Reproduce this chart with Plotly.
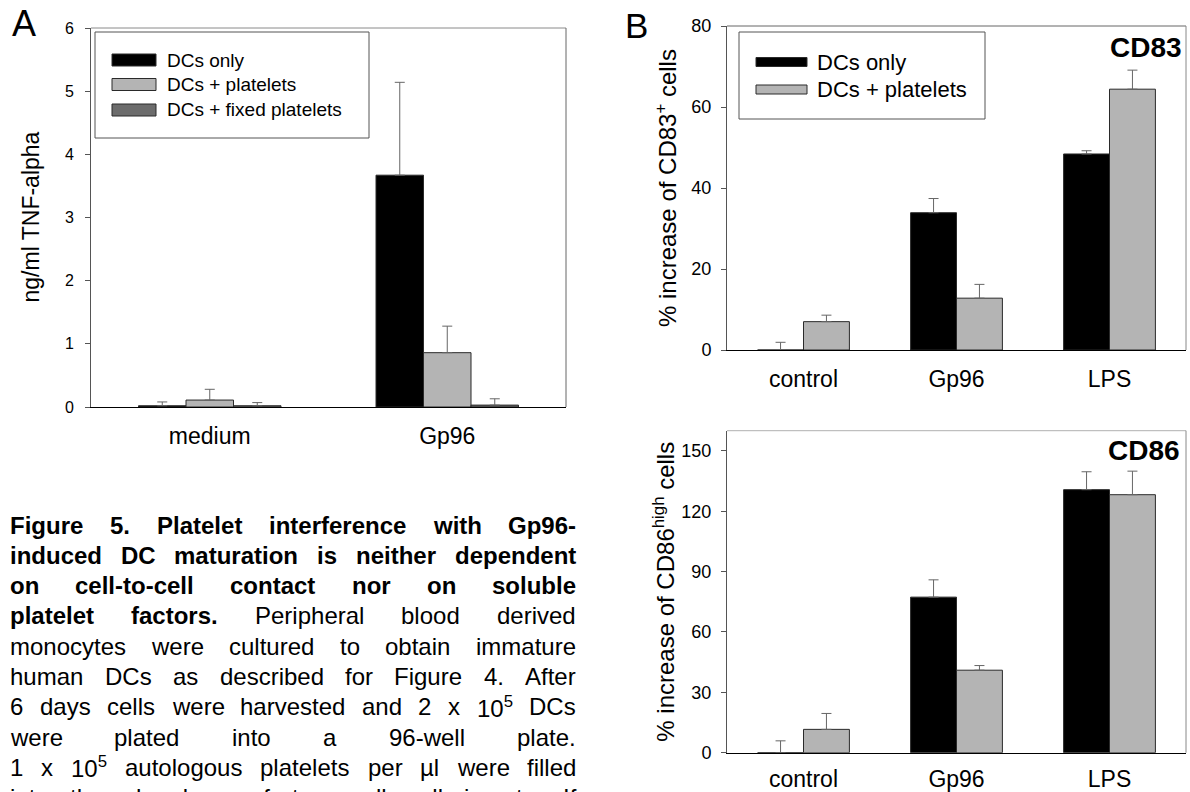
import plotly.graph_objects as go

# ---------------- data ----------------
tnf_categories = ["medium", "Gp96"]
tnf_dc_only = [0.02, 3.67]
tnf_dc_only_err = [0.06, 1.47]
tnf_dc_platelets = [0.11, 0.86]
tnf_dc_platelets_err = [0.17, 0.42]
tnf_dc_fixed = [0.02, 0.03]
tnf_dc_fixed_err = [0.05, 0.10]

stim_categories = ["control", "Gp96", "LPS"]
cd83_dc_only = [0.0, 33.9, 48.4]
cd83_dc_only_err = [1.9, 3.5, 0.8]
cd83_dc_platelets = [7.0, 12.8, 64.4]
cd83_dc_platelets_err = [1.6, 3.4, 4.7]
cd86_dc_only = [0.0, 77.3, 130.7]
cd86_dc_only_err = [5.9, 8.6, 8.9]
cd86_dc_platelets = [11.6, 41.0, 128.2]
cd86_dc_platelets_err = [7.9, 2.3, 11.7]

series_names = ["DCs only", "DCs + platelets", "DCs + fixed platelets"]
series_colors = ["#000000", "#b4b4b4", "#6c6c6c"]

W, H = 1190, 792
FONT = "Liberation Sans, Arial, sans-serif"


def px(x):
    return x / W


def py(y):
    return 1 - y / H


def bar(cats, vals, errs, color, xa, ya, name):
    return go.Bar(
        x=cats, y=vals, name=name, xaxis=xa, yaxis=ya,
        marker=dict(color=color, line=dict(color="#2a2a2a", width=1)),
        error_y=dict(type="data", symmetric=False, array=errs,
                     arrayminus=[0] * len(errs), color="#666666",
                     thickness=1, width=5),
        showlegend=False,
    )


fig = go.Figure()
# panel A: TNF-alpha
fig.add_trace(bar(tnf_categories, tnf_dc_only, tnf_dc_only_err, series_colors[0], "x", "y", series_names[0]))
fig.add_trace(bar(tnf_categories, tnf_dc_platelets, tnf_dc_platelets_err, series_colors[1], "x", "y", series_names[1]))
fig.add_trace(bar(tnf_categories, tnf_dc_fixed, tnf_dc_fixed_err, series_colors[2], "x", "y", series_names[2]))
# panel B: CD83
fig.add_trace(bar(stim_categories, cd83_dc_only, cd83_dc_only_err, series_colors[0], "x2", "y2", series_names[0]))
fig.add_trace(bar(stim_categories, cd83_dc_platelets, cd83_dc_platelets_err, series_colors[1], "x2", "y2", series_names[1]))
# panel B: CD86
fig.add_trace(bar(stim_categories, cd86_dc_only, cd86_dc_only_err, series_colors[0], "x3", "y3", series_names[0]))
fig.add_trace(bar(stim_categories, cd86_dc_platelets, cd86_dc_platelets_err, series_colors[1], "x3", "y3", series_names[1]))

xa_common = dict(type="category", showgrid=False, zeroline=False, showline=True,
                 linecolor="#000000", linewidth=1, ticks="", fixedrange=True,
                 automargin=False,
                 tickfont=dict(family=FONT, size=23, color="#000"))
ya_common = dict(showgrid=False, zeroline=False, showline=True, linecolor="#555555",
                 linewidth=1, ticks="outside", ticklen=5, tickcolor="#555555",
                 tickwidth=1, fixedrange=True, automargin=False)

fig.update_layout(
    width=W, height=H,
    margin=dict(l=0, r=0, t=0, b=0, pad=0, autoexpand=False),
    paper_bgcolor="white", plot_bgcolor="white",
    barmode="group", bargap=0.4, bargroupgap=0,
    font=dict(family=FONT, color="#000"),
    xaxis=dict(xa_common, domain=[px(91), px(566)], anchor="y",
               range=[-0.5, 1.5], ticklabelstandoff=8),
    yaxis=dict(ya_common, domain=[py(407), py(28)], anchor="x",
               range=[0, 6], dtick=1, ticklabelstandoff=8,
               tickfont=dict(family=FONT, size=16, color="#000")),
    xaxis2=dict(xa_common, domain=[px(727), px(1186)], anchor="y2",
                range=[-0.5, 2.5], ticklabelstandoff=8),
    yaxis2=dict(ya_common, domain=[py(350), py(26)], anchor="x2",
                range=[0, 80], dtick=20, ticklabelstandoff=6,
                tickfont=dict(family=FONT, size=18, color="#000")),
    xaxis3=dict(xa_common, domain=[px(727), px(1186)], anchor="y3",
                range=[-0.5, 2.5], ticklabelstandoff=6),
    yaxis3=dict(ya_common, domain=[py(752.7), py(430.7)], anchor="x3",
                range=[0, 160], tickvals=[0, 30, 60, 90, 120, 150], ticklabelstandoff=6,
                tickfont=dict(family=FONT, size=18, color="#000")),
)

shapes = []
annotations = []

# top / right frame lines of each panel
for xr, yr, top_col, right_col in [("x", "y", "#8a8a8a", "#666666"),
                                    ("x2", "y2", "#666666", "#888888"),
                                    ("x3", "y3", "#b0b0b0", "#888888")]:
    shapes.append(dict(type="line", xref=f"{xr} domain", yref=f"{yr} domain",
                       x0=0, x1=1, y0=1, y1=1, line=dict(color=top_col, width=1)))
    shapes.append(dict(type="line", xref=f"{xr} domain", yref=f"{yr} domain",
                       x0=1, x1=1, y0=0, y1=1, line=dict(color=right_col, width=1)))


def legend_box(x0, y0, x1, y1, sw_x0, sw_x1, sw_h, rows_y, text_x, fsize, n):
    shapes.append(dict(type="rect", xref="paper", yref="paper",
                       x0=px(x0), x1=px(x1), y0=py(y1), y1=py(y0),
                       line=dict(color="#555555", width=1), fillcolor="white"))
    for i in range(n):
        yc = rows_y[i]
        shapes.append(dict(type="rect", xref="paper", yref="paper",
                           x0=px(sw_x0), x1=px(sw_x1),
                           y0=py(yc + sw_h / 2), y1=py(yc - sw_h / 2),
                           line=dict(color="#2a2a2a", width=1),
                           fillcolor=series_colors[i]))
        annotations.append(dict(xref="paper", yref="paper", x=px(text_x), y=py(yc),
                                xanchor="left", yanchor="middle", showarrow=False,
                                text=series_names[i],
                                font=dict(family=FONT, size=fsize, color="#000")))


legend_box(95, 32, 369, 138, 112, 156, 12, [60, 84.5, 110], 165, 19, 3)
legend_box(739, 32, 985, 119, 756, 807, 9, [62, 89.5], 815, 22, 2)

# axis titles
annotations.append(dict(xref="paper", yref="paper", x=px(30), y=py(217.5),
                        textangle=-90, showarrow=False, xanchor="center", yanchor="middle",
                        text="ng/ml TNF-alpha", font=dict(family=FONT, size=23, color="#000")))
annotations.append(dict(xref="paper", yref="paper", x=px(666), y=py(188),
                        textangle=-90, showarrow=False, xanchor="center", yanchor="middle",
                        text="% increase of CD83<sup>+</sup> cells",
                        font=dict(family=FONT, size=24, color="#000")))
annotations.append(dict(xref="paper", yref="paper", x=px(664), y=py(591.7),
                        textangle=-90, showarrow=False, xanchor="center", yanchor="middle",
                        text="% increase of CD86<sup>high</sup> cells",
                        font=dict(family=FONT, size=24, color="#000")))

# panel letters and marker names
annotations.append(dict(xref="paper", yref="paper", x=px(23.5), y=py(24), showarrow=False,
                        xanchor="center", yanchor="middle", text="A",
                        font=dict(family=FONT, size=36, color="#000")))
annotations.append(dict(xref="paper", yref="paper", x=px(636), y=py(25), showarrow=False,
                        xanchor="center", yanchor="middle", text="B",
                        font=dict(family=FONT, size=35, color="#000")))
annotations.append(dict(xref="paper", yref="paper", x=px(1184), y=py(47), showarrow=False,
                        xanchor="right", yanchor="middle", text="<b>CD83</b>",
                        font=dict(family=FONT, size=28, color="#000")))
annotations.append(dict(xref="paper", yref="paper", x=px(1182), y=py(450), showarrow=False,
                        xanchor="right", yanchor="middle", text="<b>CD86</b>",
                        font=dict(family=FONT, size=28, color="#000")))

# ---------------- justified caption ----------------
AR = {' ': 278, '.': 278, '-': 333, 'µ': 556,
      'a': 556, 'b': 556, 'c': 500, 'd': 556, 'e': 556, 'f': 278, 'g': 556, 'h': 556,
      'i': 222, 'j': 222, 'k': 500, 'l': 222, 'm': 833, 'n': 556, 'o': 556, 'p': 556,
      'q': 556, 'r': 333, 's': 500, 't': 278, 'u': 556, 'v': 500, 'w': 722, 'x': 500,
      'y': 500, 'z': 500, 'A': 667, 'C': 722, 'D': 722, 'F': 611, 'G': 778, 'I': 278,
      'P': 667}
AB = {' ': 278, '.': 278, '-': 333,
      'a': 556, 'b': 611, 'c': 556, 'd': 611, 'e': 556, 'f': 333, 'g': 611, 'h': 611,
      'i': 278, 'j': 278, 'k': 556, 'l': 278, 'm': 889, 'n': 611, 'o': 611, 'p': 611,
      'q': 611, 'r': 389, 's': 556, 't': 333, 'u': 611, 'v': 556, 'w': 778, 'x': 556,
      'y': 556, 'z': 500, 'A': 722, 'C': 722, 'D': 722, 'F': 611, 'G': 778, 'P': 667}
for d in "0123456789":
    AR[d] = 556
    AB[d] = 556

CAP_SIZE = 24
CAP_LEFT, CAP_RIGHT = 10, 576
CAP_Y0, CAP_DY = 525, 30.3

# each word: (text, bold, superscript suffix)
caption_lines = [
    [("Figure", 1, ""), ("5.", 1, ""), ("Platelet", 1, ""), ("interference", 1, ""),
     ("with", 1, ""), ("Gp96-", 1, "")],
    [("induced", 1, ""), ("DC", 1, ""), ("maturation", 1, ""), ("is", 1, ""),
     ("neither", 1, ""), ("dependent", 1, "")],
    [("on", 1, ""), ("cell-to-cell", 1, ""), ("contact", 1, ""), ("nor", 1, ""),
     ("on", 1, ""), ("soluble", 1, "")],
    [("platelet", 1, ""), ("factors.", 1, ""), ("Peripheral", 0, ""), ("blood", 0, ""),
     ("derived", 0, "")],
    [("monocytes", 0, ""), ("were", 0, ""), ("cultured", 0, ""), ("to", 0, ""),
     ("obtain", 0, ""), ("immature", 0, "")],
    [("human", 0, ""), ("DCs", 0, ""), ("as", 0, ""), ("described", 0, ""), ("for", 0, ""),
     ("Figure", 0, ""), ("4.", 0, ""), ("After", 0, "")],
    [("6", 0, ""), ("days", 0, ""), ("cells", 0, ""), ("were", 0, ""), ("harvested", 0, ""),
     ("and", 0, ""), ("2", 0, ""), ("x", 0, ""), ("10", 0, "5"), ("DCs", 0, "")],
    [("were", 0, ""), ("plated", 0, ""), ("into", 0, ""), ("a", 0, ""), ("96-well", 0, ""),
     ("plate.", 0, "")],
    [("1", 0, ""), ("x", 0, ""), ("10", 0, "5"), ("autologous", 0, ""), ("platelets", 0, ""),
     ("per", 0, ""), ("µl", 0, ""), ("were", 0, ""), ("filled", 0, "")],
    [("into", 0, ""), ("the", 0, ""), ("chambers", 0, ""), ("of", 0, ""),
     ("transwell", 0, ""), ("cell", 0, ""), ("inserts.", 0, ""), ("If", 0, "")],
]


def word_width(word, bold, sup):
    table = AB if bold else AR
    w = sum(table.get(c, 556) for c in word)
    w += 0.7 * sum(AR.get(c, 556) for c in sup)
    return w / 1000 * CAP_SIZE


for li, words in enumerate(caption_lines):
    yc = CAP_Y0 + li * CAP_DY
    widths = [word_width(*w) for w in words]
    gap = (CAP_RIGHT - CAP_LEFT - sum(widths)) / (len(words) - 1)
    x = CAP_LEFT
    for (txt, bold, sup), wdt in zip(words, widths):
        t = txt + (f"<sup>{sup}</sup>" if sup else "")
        if bold:
            t = f"<b>{t}</b>"
        annotations.append(dict(xref="paper", yref="paper", x=px(x - 2), y=py(yc),
                                xanchor="left", yanchor="middle", showarrow=False,
                                text=t, font=dict(family=FONT, size=CAP_SIZE, color="#000")))
        x += wdt + gap

fig.update_layout(shapes=shapes, annotations=annotations)
fig.write_html("out.html")
